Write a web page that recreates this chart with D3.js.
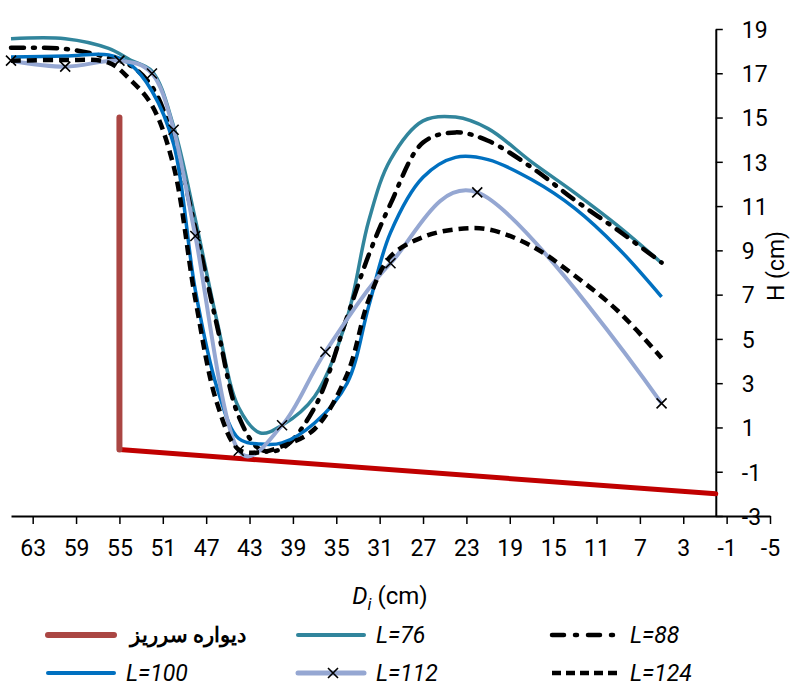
<!DOCTYPE html>
<html>
<head>
<meta charset="utf-8">
<script src="https://cdn.jsdelivr.net/npm/d3@7"></script>
<style>
  body { margin: 0; background: #fff; }
  svg text { font-family: Roboto, "Liberation Sans", sans-serif; fill: #000; }
</style>
</head>
<body>
<svg id="chart"></svg>
<script>
// distances (cm) for the smooth series
const dSmooth = [65, 60, 56, 54, 52, 50, 48, 46, 44, 42, 40, 37, 34, 32, 30, 27, 24, 21, 17, 13, 9, 5];
const h76  = [18.56, 18.56, 18.12, 17.6, 17.1, 14.6, 10.4, 5.8, 1.9, 0.75, 1.1, 2.4, 5.95, 10.35, 13.1, 14.85, 15.02, 14.5, 13.0, 11.6, 10.1, 8.43];
const h88  = [18.15, 18.1, 17.7, 17.35, 16.4, 14.0, 10.0, 5.6, 1.5, 0.0, 0.05, 1.9, 6.0, 8.8, 11.1, 13.87, 14.33, 13.95, 12.75, 11.27, 9.9, 8.45];
const h100 = [17.73, 17.78, 17.83, 17.4, 16.2, 13.8, 7.2, 2.8, 0.5, 0.25, 0.3, 1.2, 3.0, 6.5, 9.8, 12.3, 13.2, 13.1, 12.2, 10.9, 9.1, 6.9];
const h124 = [17.56, 17.6, 17.48, 16.71, 15.55, 12.8, 6.8, 2.1, 0.0, -0.12, 0.15, 0.93, 3.4, 6.78, 8.72, 9.6, 9.95, 9.95, 9.2, 7.85, 6.25, 4.14];

// L=112 has a marker on every measured point
const d112 = [65, 60, 55, 52, 50, 48, 44, 40, 36, 30, 22, 5];
const h112 = [17.57, 17.3, 17.57, 16.99, 14.45, 9.65, -0.05, 1.1, 4.42, 8.42, 11.62, 2.09];

// weir wall and channel bed
const wallD = [55, 55];
const wallH = [15, 0];
const bedD = [55, 0];
const bedH = [0, -2];

const xTicks = d3.range(63, -6, -4);
const yTicks = d3.range(-3, 20, 2);
const legendLabels = ['دیواره سرریز', 'L=76', 'L=88', 'L=100', 'L=112', 'L=124'];

const width = 794, height = 686;
const svg = d3.select('#chart').attr('width', width).attr('height', height);

const x = d3.scaleLinear().domain([65, -5]).range([11, 770]);
const y = d3.scaleLinear().domain([-3, 19]).range([516, 29]);

const pts = (ds, hs) => ds.map((d, i) => [d, hs[i]]);
const smooth = a => d3.line()
    .x(d => x(d[0]))
    .y(d => y(d[1]))
    .curve(d3.curveCatmullRom.alpha(a));
const straight = d3.line().x(d => x(d[0])).y(d => y(d[1]));

// axes
const xAxis = svg.append('g')
    .attr('transform', `translate(0,${y(-3)})`)
    .call(d3.axisBottom(x).tickValues(xTicks).tickSize(8).tickSizeOuter(0).tickFormat(d => String(d)));
xAxis.select('.domain').attr('stroke-width', 2);
xAxis.selectAll('.tick line').attr('stroke-width', 1.5);
xAxis.selectAll('.tick text').attr('y', 40).attr('dy', null).attr('font-size', 23);

const yAxis = svg.append('g')
    .attr('transform', `translate(${x(0)},0)`)
    .call(d3.axisRight(y).tickValues(yTicks).tickSize(7).tickSizeOuter(0).tickFormat(d => String(d)));
yAxis.select('.domain').attr('stroke-width', 2);
yAxis.selectAll('.tick line').attr('stroke-width', 1.5);
yAxis.selectAll('.tick text').attr('x', 26).attr('dy', '0.36em').attr('font-size', 23);

// axis titles
const xt = svg.append('text').attr('x', 390).attr('y', 604).attr('text-anchor', 'middle').attr('font-size', 24);
xt.append('tspan').attr('font-style', 'italic').text('D');
xt.append('tspan').attr('font-style', 'italic').attr('font-size', 17).attr('dy', 6).text('i');
xt.append('tspan').attr('dy', -6).text(' (cm)');

svg.append('text')
    .attr('transform', 'translate(784,266) rotate(-90)')
    .attr('text-anchor', 'middle').attr('font-size', 23)
    .text('H (cm)');

// bed and wall
svg.append('path').datum(pts(bedD, bedH))
    .attr('d', straight).attr('fill', 'none')
    .attr('stroke', '#C00000').attr('stroke-width', 5).attr('stroke-linecap', 'round');
svg.append('path').datum(pts(wallD, wallH))
    .attr('d', straight).attr('fill', 'none')
    .attr('stroke', '#AA4643').attr('stroke-width', 6).attr('stroke-linecap', 'round');

// series
const series = [
    { ds: dSmooth, hs: h76, color: '#31859C', w: 3.5, dash: null, a: 0.5 },
    { ds: dSmooth, hs: h88, color: '#000', w: 4.5, dash: '13,9,2,9', a: 0.5 },
    { ds: dSmooth, hs: h100, color: '#0070C0', w: 3.5, dash: null, a: 0.5 },
    { ds: d112, hs: h112, color: '#95A7D2', w: 4, dash: null, a: 0.2 },
    { ds: dSmooth, hs: h124, color: '#000', w: 4.5, dash: '10,6', a: 0.5 }
];
series.forEach(s => {
    svg.append('path').datum(pts(s.ds, s.hs))
        .attr('d', smooth(s.a)).attr('fill', 'none')
        .attr('stroke', s.color).attr('stroke-width', s.w)
        .attr('stroke-dasharray', s.dash)
        .attr('stroke-linecap', s.dash && s.dash.split(',').length > 2 ? 'round' : 'butt');
});

// x markers on L=112
const cross = (g, cx, cy, r) => {
    g.append('path')
        .attr('d', `M${cx - r},${cy - r}L${cx + r},${cy + r}M${cx - r},${cy + r}L${cx + r},${cy - r}`)
        .attr('stroke', '#000').attr('stroke-width', 1.6).attr('fill', 'none');
};
const mk = svg.append('g');
pts(d112, h112).forEach(p => cross(mk, x(p[0]), y(p[1]), 5));

// legend
const legend = svg.append('g');
const cols = [48, 298, 552];
const rows = [635, 673];
const lStyle = [
    { color: '#AA4643', w: 6, dash: null },
    { color: '#31859C', w: 4, dash: null },
    { color: '#000', w: 4.5, dash: '12,11,2,11' },
    { color: '#0070C0', w: 4, dash: null },
    { color: '#95A7D2', w: 5, dash: null },
    { color: '#000', w: 4.5, dash: '9,5' }
];
legendLabels.forEach((lab, i) => {
    const cx = cols[i % 3], cy = rows[Math.floor(i / 3)];
    const st = lStyle[i];
    legend.append('line')
        .attr('x1', cx).attr('x2', cx + 66).attr('y1', cy).attr('y2', cy)
        .attr('stroke', st.color).attr('stroke-width', st.w)
        .attr('stroke-dasharray', st.dash)
        .attr('stroke-linecap', st.dash && st.dash.split(',').length === 2 ? 'butt' : 'round');
    if (i === 4) cross(legend, cx + 35, cy, 5);
    if (i === 0) {
        legend.append('text').attr('x', cx + 140).attr('y', cy + 7)
            .attr('text-anchor', 'middle').attr('font-size', 21).attr('font-weight', 'bold')
            .attr('font-family', '"DejaVu Sans", sans-serif')
            .text(lab);
    } else {
        legend.append('text').attr('x', cx + 78).attr('y', cy + 8)
            .attr('font-size', 23).attr('font-style', 'italic')
            .text(lab);
    }
});
</script>
</body>
</html>
